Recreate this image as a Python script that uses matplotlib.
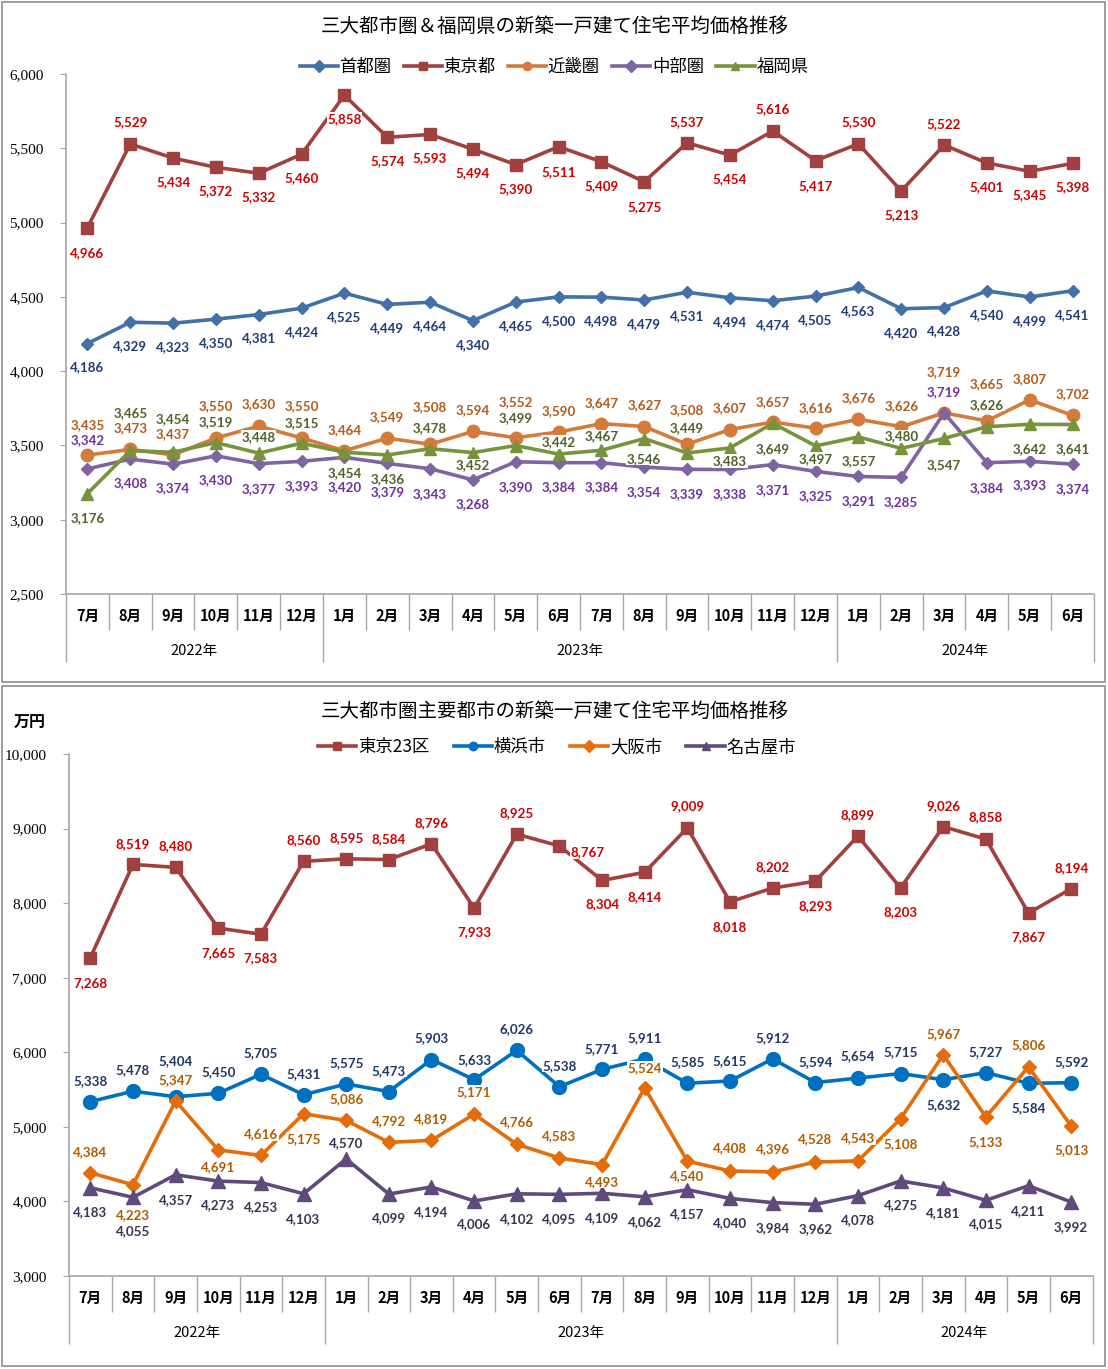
import matplotlib

matplotlib.use("Agg")
import matplotlib.pyplot as plt
from matplotlib.lines import Line2D
from matplotlib.patches import Rectangle

plt.rcParams["font.family"] = ["Noto Sans CJK JP", "DejaVu Sans"]

# ---- data ------------------------------------------------------------------
months = ["7月", "8月", "9月", "10月", "11月", "12月",
          "1月", "2月", "3月", "4月", "5月", "6月", "7月", "8月", "9月", "10月", "11月", "12月",
          "1月", "2月", "3月", "4月", "5月", "6月"]
years = ["2022年", "2023年", "2024年"]
year_spans = [(0, 5), (6, 17), (18, 23)]

# top chart (万円)
shuto = [4186, 4329, 4323, 4350, 4381, 4424, 4525, 4449, 4464, 4340, 4465, 4500,
         4498, 4479, 4531, 4494, 4474, 4505, 4563, 4420, 4428, 4540, 4499, 4541]
tokyo = [4966, 5529, 5434, 5372, 5332, 5460, 5858, 5574, 5593, 5494, 5390, 5511,
         5409, 5275, 5537, 5454, 5616, 5417, 5530, 5213, 5522, 5401, 5345, 5398]
kinki = [3435, 3473, 3437, 3550, 3630, 3550, 3464, 3549, 3508, 3594, 3552, 3590,
         3647, 3627, 3508, 3607, 3657, 3616, 3676, 3626, 3719, 3665, 3807, 3702]
chubu = [3342, 3408, 3374, 3430, 3377, 3393, 3420, 3379, 3343, 3268, 3390, 3384,
         3384, 3354, 3339, 3338, 3371, 3325, 3291, 3285, 3719, 3384, 3393, 3374]
fukuoka = [3176, 3465, 3454, 3519, 3448, 3515, 3454, 3436, 3478, 3452, 3499, 3442,
           3467, 3546, 3449, 3483, 3649, 3497, 3557, 3480, 3547, 3626, 3642, 3641]

# bottom chart (万円)
tokyo23 = [7268, 8519, 8480, 7665, 7583, 8560, 8595, 8584, 8796, 7933, 8925, 8767,
           8304, 8414, 9009, 8018, 8202, 8293, 8899, 8203, 9026, 8858, 7867, 8194]
yokohama = [5338, 5478, 5404, 5450, 5705, 5431, 5575, 5473, 5903, 5633, 6026, 5538,
            5771, 5911, 5585, 5615, 5912, 5594, 5654, 5715, 5632, 5727, 5584, 5592]
osaka = [4384, 4223, 5347, 4691, 4616, 5175, 5086, 4792, 4819, 5171, 4766, 4583,
         4493, 5524, 4540, 4408, 4396, 4528, 4543, 5108, 5967, 5133, 5806, 5013]
nagoya = [4183, 4055, 4357, 4273, 4253, 4103, 4570, 4099, 4194, 4006, 4102, 4095,
          4109, 4062, 4157, 4040, 3984, 3962, 4078, 4275, 4181, 4015, 4211, 3992]

# ---- data label placement (pixels below the point; negative = above) --------
shuto_dy = [24] * 24
tokyo_dy = [25, -22, 24, 24, 24, 24, 24, 24, 24, 24, 24, 25,
            24, 25, -21, 24, -22, 25, -22, 24, -21, 24, 24, 24]
kinki_dy = [-30, -21, -21, -32, -22, -32, -21, -21, -37, -21, -36, -21,
            -21, -21, -34, -21, -20, -20, -21, -21, -41, -37, -21, -21]
chubu_dy = [-29, 24, 24, 24, 25, 25, 30, 29, 25, 24, 25, 24,
            24, 25, 25, 25, 25, 25, 25, 25, -21, 25, 24, 25]
fukuoka_dy = [25, -38, -33, -21, -16, -20, 21, 24, -21, 13, -27, -12,
              -14, 20, -25, 13, 26, 13, 24, -12, 27, -22, 25, 25]

tokyo23_dy = [25, -20, -21, 25, 24, -21, -21, -21, -21, 24, -21, 6,
              24, 25, -22, 25, -21, 25, -21, 24, -21, -22, 24, -21]
tokyo23_dx = [0] * 11 + [28] + [0] * 12
yokohama_dy = [-21, -21, -36, -21, -21, -21, -21, -21, -21, -20, -21, -21,
               -20, -21, -21, -20, -21, -20, -22, -21, 25, -21, 25, -21]
osaka_dy = [-21, 30, -21, 17, -21, 25, -21, -21, -21, -22, -22, -22,
            17, -20, 15, -23, -23, -23, -23, 25, -21, 25, -22, 24]
nagoya_dy = [24, 34, 25, 24, 25, 25, -16, 24, 25, 23, 25, 25,
             25, 25, 24, 25, 25, 25, 24, 24, 25, 24, 25, 25]

W, H = 1108, 1369
GRAY = "#A6A6A6"
LABEL_FONT = ["Lato", "DejaVu Sans"]


def fx(px):
    return px / W


def fy(py):
    return 1 - py / H


def draw_series(ax, values, dy, dx, name, color, lcolor, marker, ms):
    x = list(range(len(values)))
    ax.plot(x, values, color=color, marker=marker, markersize=ms, linewidth=2.6,
            markeredgecolor=color, label=name, zorder=3)
    for i, v in enumerate(values):
        ax.annotate(f"{v:,}", (i, v), xytext=(dx[i], -dy[i]), textcoords="offset pixels",
                    ha="center", va="center", fontsize=9.6, fontweight="bold",
                    family=LABEL_FONT, color=lcolor, zorder=6,
                    bbox=dict(boxstyle="square,pad=0.05", fc="white", ec="none"))


def style_axes(ax, ylim, yticks):
    ax.set_xlim(-0.5, len(months) - 0.5)
    ax.set_ylim(*ylim)
    ax.set_yticks(yticks)
    ax.set_yticklabels([f"{t:,}" for t in yticks], family=["Liberation Serif"], fontsize=11)
    for side in ("top", "right"):
        ax.spines[side].set_visible(False)
    for side in ("left", "bottom"):
        ax.spines[side].set_color(GRAY)
        ax.spines[side].set_linewidth(1.2)
    ax.tick_params(axis="y", length=4, color=GRAY, pad=12)
    # month separators (short) and year separators (long)
    year_edges = [s - 0.5 for s, _ in year_spans] + [len(months) - 0.5]
    month_edges = [i - 0.5 for i in range(1, len(months)) if (i - 0.5) not in year_edges]
    ax.set_xticks(month_edges)
    ax.set_xticks(year_edges, minor=True)
    ax.set_xticklabels([])
    ax.tick_params(axis="x", which="major", length=26, color=GRAY, width=1)
    ax.tick_params(axis="x", which="minor", length=49, color=GRAY, width=1)
    trans = ax.get_xaxis_transform()
    for i, m in enumerate(months):
        ax.annotate(m, (i, 0), xycoords=trans, xytext=(0, -22), textcoords="offset pixels",
                    ha="center", va="center", fontsize=10.5, fontweight="bold")
    for (s, e), yr in zip(year_spans, years):
        ax.annotate(yr, ((s + e) / 2, 0), xycoords=trans, xytext=(0, -57),
                    textcoords="offset pixels", ha="center", va="center", fontsize=10.5)


fig = plt.figure(figsize=(W / 100, H / 100), dpi=100)

# panel frames
for top_px, bot_px in ((2, 682), (686, 1366)):
    fig.patches.append(Rectangle((fx(2), fy(bot_px)), fx(1103), (bot_px - top_px) / H,
                                 transform=fig.transFigure, fill=False, ec="#8C8C8C", lw=1.2))

# ---- top chart ---------------------------------------------------------------
ax1 = fig.add_axes([fx(66), fy(594), fx(1028), 520 / H])
draw_series(ax1, shuto, shuto_dy, [0] * 24, "首都圏", "#4470A8", "#1F3D7A", "D", 6.5)
draw_series(ax1, tokyo, tokyo_dy, [0] * 24, "東京都", "#A0413F", "#D00000", "s", 8.5)
draw_series(ax1, kinki, kinki_dy, [0] * 24, "近畿圏", "#D47A3A", "#B45A1A", "o", 9)
draw_series(ax1, chubu, chubu_dy, [0] * 24, "中部圏", "#8064A2", "#7030A0", "D", 6.5)
draw_series(ax1, fukuoka, fukuoka_dy, [0] * 24, "福岡県", "#77933C", "#4F6228", "^", 9)
style_axes(ax1, (2500, 6000), list(range(2500, 6001, 500)))

fig.text(fx(555), fy(26), "三大都市圏＆福岡県の新築一戸建て住宅平均価格推移",
         ha="center", va="center", fontsize=14)
h1, l1 = ax1.get_legend_handles_labels()
h1 = [Line2D([], [], color=h.get_color(), marker=h.get_marker(), markersize=6, lw=2.6) for h in h1]
fig.legend(h1, l1, loc="center", bbox_to_anchor=(fx(554), fy(67)), ncol=5, frameon=False,
           fontsize=12.5, handlelength=2.2, handletextpad=0.1, columnspacing=0.7)

# ---- bottom chart ------------------------------------------------------------
ax2 = fig.add_axes([fx(69), fy(1276), fx(1023.5), 522 / H])
draw_series(ax2, tokyo23, tokyo23_dy, tokyo23_dx, "東京23区", "#A0413F", "#D00000", "s", 9)
draw_series(ax2, yokohama, yokohama_dy, [0] * 24, "横浜市", "#0070C0", "#1F3864", "o", 10)
draw_series(ax2, osaka, osaka_dy, [0] * 24, "大阪市", "#E46C0A", "#B25C00", "D", 7)
draw_series(ax2, nagoya, nagoya_dy, [0] * 24, "名古屋市", "#604A7B", "#3F3151", "^", 9.5)
style_axes(ax2, (3000, 10000), list(range(3000, 10001, 1000)))

fig.text(fx(555), fy(711), "三大都市圏主要都市の新築一戸建て住宅平均価格推移",
         ha="center", va="center", fontsize=14)
fig.text(fx(30), fy(723), "万円", ha="center", va="center", fontsize=11.5, fontweight="bold")
h2, l2 = ax2.get_legend_handles_labels()
h2 = [Line2D([], [], color=h.get_color(), marker=h.get_marker(), markersize=6, lw=2.6) for h in h2]
fig.legend(h2, l2, loc="center", bbox_to_anchor=(fx(557), fy(747)), ncol=4, frameon=False,
           fontsize=12.5, handlelength=2.2, handletextpad=0.1, columnspacing=1.4)

fig.savefig("out.png", dpi=100)
